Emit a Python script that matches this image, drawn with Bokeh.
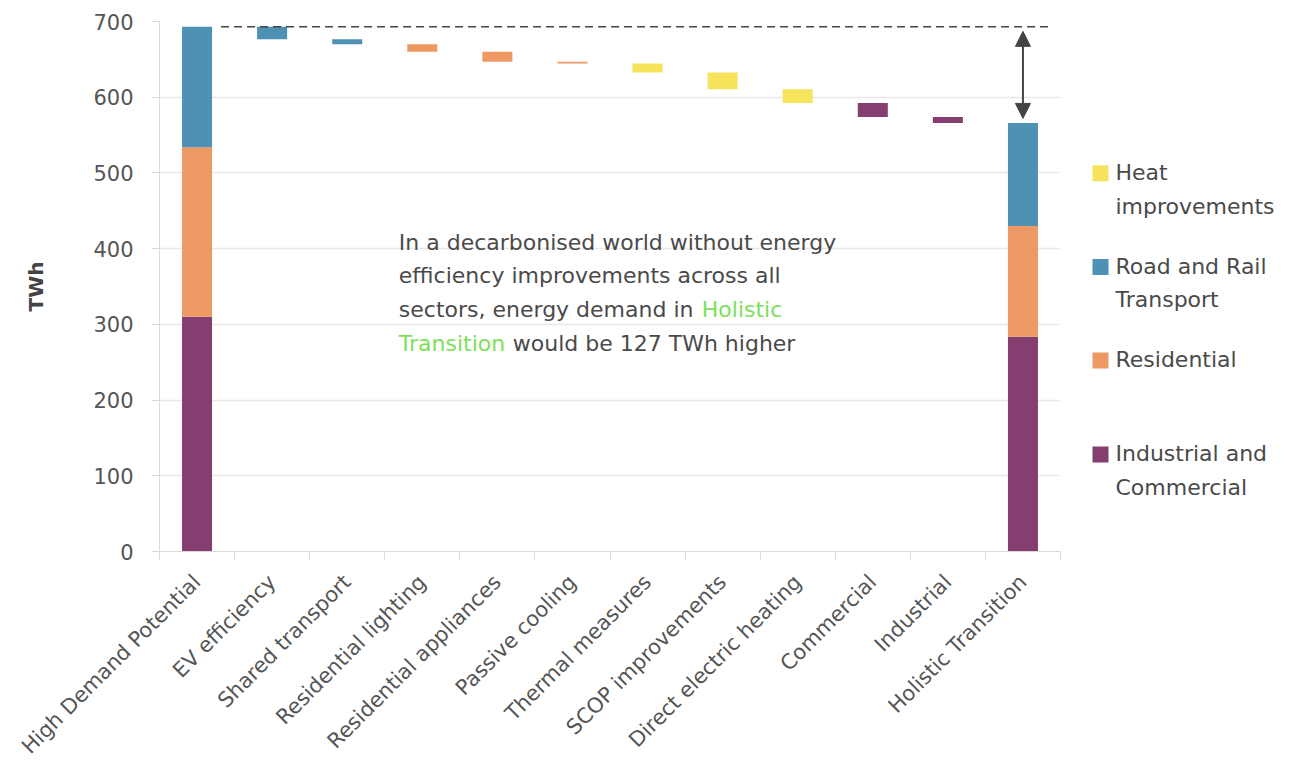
import numpy as np
from bokeh.plotting import figure
from bokeh.layouts import row
from bokeh.models import Range1d, FixedTicker, Arrow, NormalHead, ColumnDataSource
from bokeh.core.properties import value
from bokeh.embed import file_html
from bokeh.resources import INLINE

# ---------------- data ----------------
categories = ["High Demand Potential", "EV efficiency", "Shared transport",
              "Residential lighting", "Residential appliances", "Passive cooling",
              "Thermal measures", "SCOP improvements", "Direct electric heating",
              "Commercial", "Industrial", "Holistic Transition"]

stack_sectors = ["Industrial and Commercial", "Residential", "Road and Rail Transport"]
hdp_values = [310, 224, 159]
ht_values = [283.5, 146.5, 136]

step_values = [16.5, 6.5, 10, 13, 2.5, 12, 22, 18, 18.5, 8]
step_sectors = ["Road and Rail Transport", "Road and Rail Transport",
                "Residential", "Residential", "Residential",
                "Heat improvements", "Heat improvements", "Heat improvements",
                "Industrial and Commercial", "Industrial and Commercial"]

legend_order = ["Heat improvements", "Road and Rail Transport", "Residential",
                "Industrial and Commercial"]
legend_lines = [["Heat", "improvements"], ["Road and Rail", "Transport"],
                ["Residential"], ["Industrial and", "Commercial"]]

sector_colors = {"Heat improvements": "#F7E35C",
                 "Road and Rail Transport": "#4F91B4",
                 "Residential": "#EE9964",
                 "Industrial and Commercial": "#843E70"}

y_ticks = [0, 100, 200, 300, 400, 500, 600, 700]

note_lines = [
    [("In a decarbonised world without energy", "#4a4a4a")],
    [("efficiency improvements across all", "#4a4a4a")],
    [("sectors, energy demand in", "#4a4a4a"), ("Holistic", "#7EE05A")],
    [("Transition", "#7EE05A"), ("would be 127 TWh higher", "#4a4a4a")],
]

FONT = "DejaVu Sans"
TXT = "#4a4a4a"
GRID = "#e8e8e8"
AXC = "#d9d9d9"

H = 770
TOP = 21
BOTTOM = H - 552

# ---------------- bars ----------------
xs = list(range(len(categories)))
bx, bb, bt, bc = [], [], [], []

def add_stack(xi, vals):
    base = 0.0
    for s, v in zip(stack_sectors, vals):
        bx.append(xi); bb.append(base); bt.append(base + v); bc.append(sector_colors[s])
        base += v

add_stack(xs[0], hdp_values)
running = float(sum(hdp_values))
for i, (v, s) in enumerate(zip(step_values, step_sectors)):
    bx.append(xs[i + 1]); bt.append(running); bb.append(running - v); bc.append(sector_colors[s])
    running -= v
add_stack(xs[-1], ht_values)

src = ColumnDataSource(dict(x=bx, bottom=bb, top=bt, color=bc))

p = figure(width=1070, height=H, x_range=Range1d(-0.5, len(categories) - 0.5),
           y_range=Range1d(0, 700), toolbar_location=None, output_backend="svg",
           min_border_left=159, min_border_right=10, min_border_top=TOP, min_border_bottom=BOTTOM)
p.outline_line_color = None
p.background_fill_color = "white"

p.vbar(x="x", bottom="bottom", top="top", width=0.4, fill_color="color",
       line_color=None, source=src)

# dashed reference line at the starting total
total_start = float(sum(hdp_values))
total_end = float(sum(ht_values))
p.segment(x0=[xs[0] + 0.32], y0=[total_start], x1=[xs[-1] + 0.35], y1=[total_start],
          line_color="#444444", line_width=1.5, line_dash="8 5")

# double arrow showing the difference
head = dict(size=15, fill_color="#444444", line_color="#444444")
p.add_layout(Arrow(x_start=xs[-1], y_start=total_end + 6, x_end=xs[-1], y_end=total_start - 6,
                   start=NormalHead(**head), end=NormalHead(**head),
                   line_color="#444444", line_width=2))

# annotation text
note_x = 2.687
note_y0 = 408.7
note_dy = 44.8
offsets = {"Holistic": 303, "would be 127 TWh higher": 114}
for li, pieces in enumerate(note_lines):
    for txt, col in pieces:
        p.text(x=[note_x], y=[note_y0 - li * note_dy], text=[txt],
               x_offset=offsets.get(txt, 0),
               text_font=value(FONT), text_font_size="22px", text_color=col,
               text_baseline="middle", text_align="left")

# axes
p.xgrid.visible = False
p.ygrid.grid_line_color = GRID
p.ygrid.grid_line_width = 1.5
p.yaxis.ticker = FixedTicker(ticks=y_ticks)
p.yaxis.axis_line_color = AXC
p.yaxis.major_tick_line_color = AXC
p.yaxis.major_tick_out = 8
p.yaxis.major_tick_in = 0
p.yaxis.minor_tick_line_color = None
p.yaxis.major_label_text_font = FONT
p.yaxis.major_label_text_font_size = "21px"
p.yaxis.major_label_text_color = "#555555"
p.yaxis.major_label_standoff = 18
p.yaxis.axis_label = "TWh"
p.yaxis.axis_label_text_font = FONT
p.yaxis.axis_label_text_font_size = "20px"
p.yaxis.axis_label_text_font_style = "bold"
p.yaxis.axis_label_text_color = "#444444"
p.yaxis.axis_label_standoff = 42

p.xaxis.ticker = FixedTicker(ticks=xs, minor_ticks=[x - 0.5 for x in xs] + [xs[-1] + 0.5])
p.xaxis.major_label_overrides = {x: c for x, c in zip(xs, categories)}
p.xaxis.major_label_orientation = np.pi / 4
p.xaxis.axis_line_color = AXC
p.xaxis.major_tick_line_color = None
p.xaxis.major_tick_out = 0
p.xaxis.major_tick_in = 0
p.xaxis.minor_tick_line_color = AXC
p.xaxis.minor_tick_out = 8
p.xaxis.minor_tick_in = 0
p.xaxis.major_label_text_font = FONT
p.xaxis.major_label_text_font_size = "21px"
p.xaxis.major_label_text_color = "#555555"
p.xaxis.major_label_standoff = 19

# ---------------- legend panel ----------------
# frame aligned with the main plot's frame; y coordinates = page pixels from top
leg = figure(width=210, height=H, x_range=Range1d(0, 210), y_range=Range1d(552, TOP),
             toolbar_location=None, output_backend="svg",
             min_border_left=0, min_border_right=0, min_border_top=TOP, min_border_bottom=BOTTOM,
             x_axis_location=None, y_axis_location=None)
leg.grid.visible = False
leg.outline_line_color = None
sq_y = [173, 267, 360.7, 454.7]
for name, lines, yy in zip(legend_order, legend_lines, sq_y):
    leg.scatter(x=[30], y=[yy], marker="square", size=16,
                fill_color=sector_colors[name], line_color=None)
    for k, t in enumerate(lines):
        leg.text(x=[45], y=[yy - 1 + k * 34], text=[t], text_font=value(FONT),
                 text_font_size="22px", text_color=TXT, text_baseline="middle")

layout = row(p, leg)
open("out.html", "w").write(file_html(layout, INLINE))
